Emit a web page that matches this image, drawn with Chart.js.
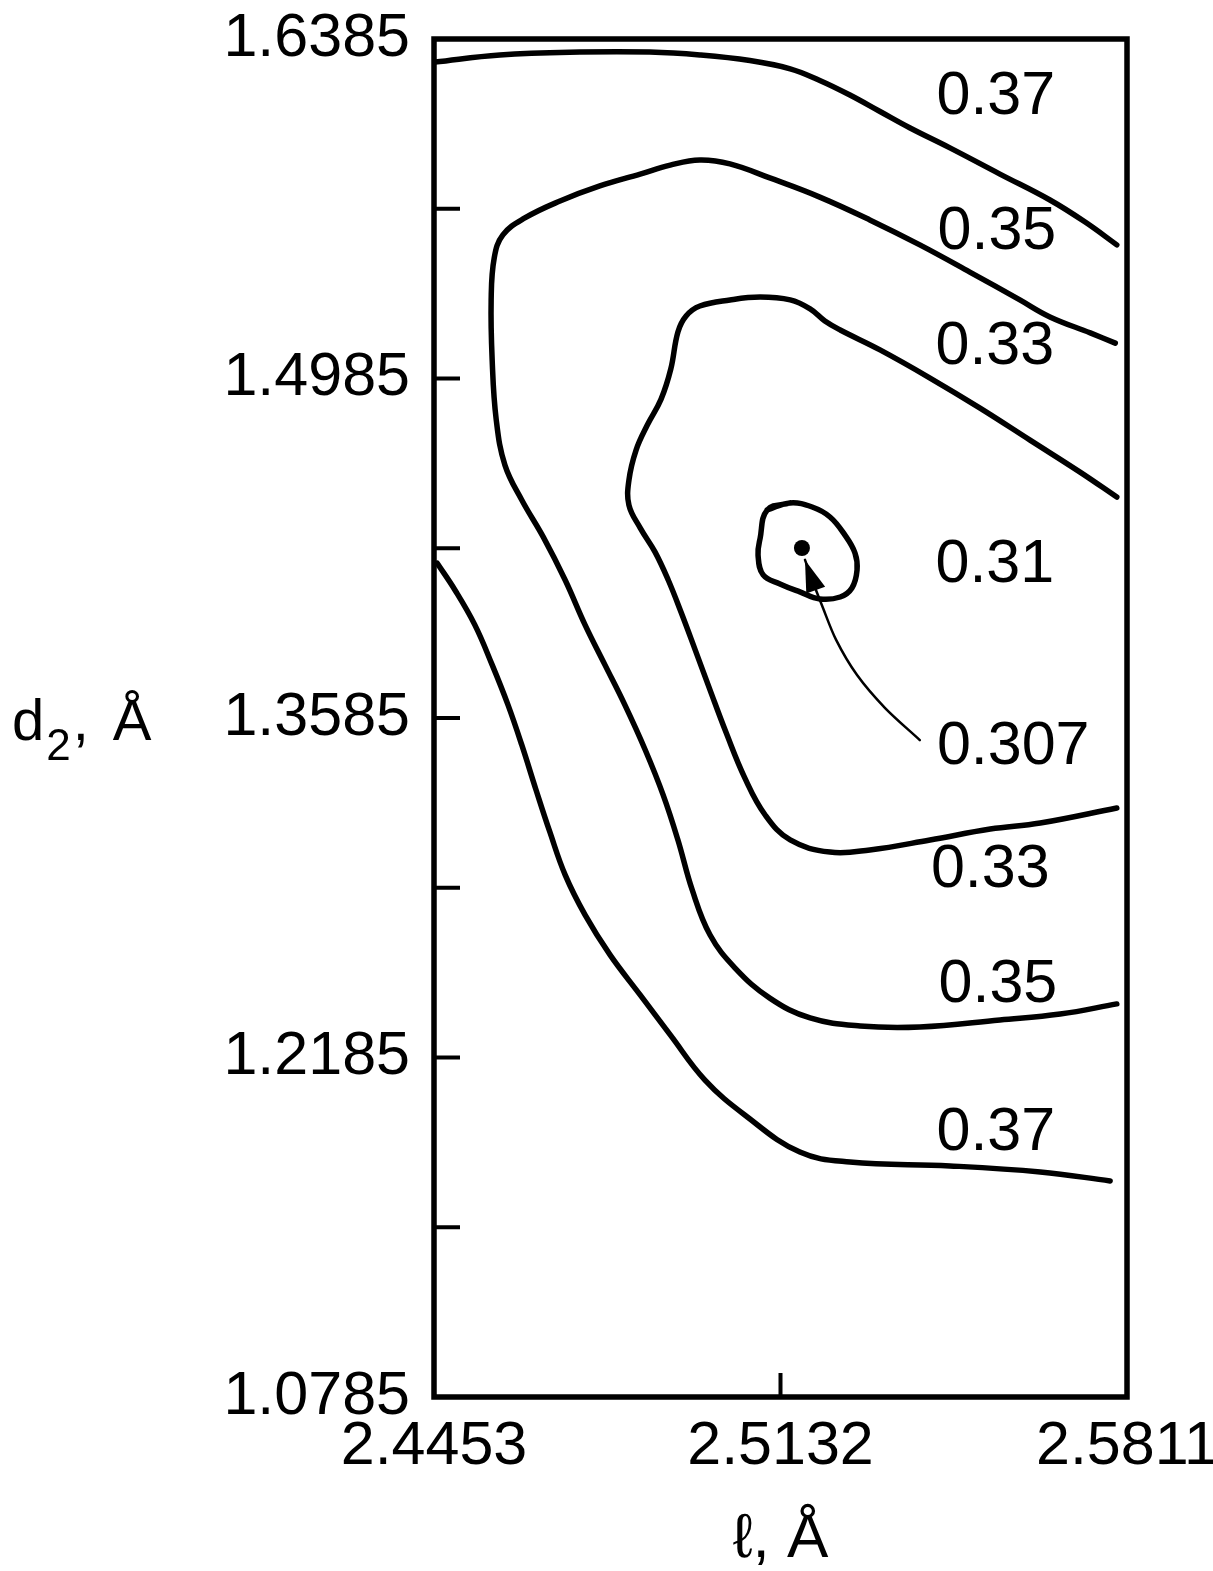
<!DOCTYPE html>
<html>
<head>
<meta charset="utf-8">
<title>d2 / l contour map</title>
<script src="https://cdn.jsdelivr.net/npm/chart.js@4.4.1/dist/chart.umd.min.js"></script>
<style>
	html, body { margin: 0; padding: 0; background: #fff; }
	canvas { display: block; }
</style>
</head>
<body>
<canvas id="contourChart" width="1213" height="1571"></canvas>
<script>
// setup block: axis ticks (both axes in Å)
const xTicks = [2.4453, 2.5132, 2.5811];
const xTickMarks = [2.5132];
const yTicks = [1.0785, 1.1485, 1.2185, 1.2885, 1.3585, 1.4285, 1.4985, 1.5685, 1.6385];
const yTickLabels = [1.0785, 1.2185, 1.3585, 1.4985, 1.6385];

// contour lines: l values and d2 values
const upper037L = [2.4455, 2.4582, 2.4739, 2.4876, 2.4974, 2.5072, 2.5151, 2.5209, 2.5268, 2.5327, 2.5386, 2.5464, 2.5562, 2.5660, 2.5729, 2.5791];
const upper037D = [1.6290, 1.6319, 1.6331, 1.6331, 1.6319, 1.6296, 1.6262, 1.6214, 1.6154, 1.6086, 1.6018, 1.5936, 1.5828, 1.5721, 1.5630, 1.5536];

const band035L = [2.5788, 2.5739, 2.5660, 2.5601, 2.5503, 2.5405, 2.5307, 2.5209, 2.5111, 2.5033, 2.4974, 2.4916, 2.4857, 2.4778, 2.4700, 2.4631, 2.4588, 2.4571, 2.4565, 2.4567, 2.4575, 2.4592, 2.4625, 2.4667, 2.4710, 2.4749, 2.4788, 2.4827, 2.4867, 2.4902, 2.4931, 2.4959, 2.4994, 2.5043, 2.5111, 2.5190, 2.5288, 2.5405, 2.5562, 2.5680, 2.5791];
const band035D = [1.5131, 1.5173, 1.5239, 1.5309, 1.5424, 1.5536, 1.5639, 1.5733, 1.5812, 1.5870, 1.5886, 1.5865, 1.5828, 1.5779, 1.5717, 1.5647, 1.5577, 1.5482, 1.5309, 1.5061, 1.4814, 1.4628, 1.4484, 1.4332, 1.4154, 1.3969, 1.3804, 1.3639, 1.3453, 1.3268, 1.3082, 1.2876, 1.2690, 1.2554, 1.2430, 1.2348, 1.2315, 1.2311, 1.2340, 1.2364, 1.2406];

const band033L = [2.5791, 2.5719, 2.5621, 2.5523, 2.5425, 2.5327, 2.5249, 2.5219, 2.5190, 2.5151, 2.5092, 2.5033, 2.4974, 2.4947, 2.4931, 2.4917, 2.4898, 2.4871, 2.4849, 2.4835, 2.4835, 2.4857, 2.4886, 2.4912, 2.4937, 2.4965, 2.4994, 2.5025, 2.5062, 2.5102, 2.5151, 2.5229, 2.5307, 2.5425, 2.5543, 2.5641, 2.5791];
const band033D = [1.4496, 1.4599, 1.4731, 1.4863, 1.4987, 1.5103, 1.5185, 1.5222, 1.5272, 1.5309, 1.5321, 1.5309, 1.5284, 1.5243, 1.5177, 1.5024, 1.4900, 1.4793, 1.4690, 1.4566, 1.4463, 1.4369, 1.4270, 1.4154, 1.4022, 1.3865, 1.3700, 1.3527, 1.3338, 1.3185, 1.3082, 1.3032, 1.3041, 1.3082, 1.3127, 1.3152, 1.3214];

const lower037L = [2.4459, 2.4494, 2.4533, 2.4567, 2.4598, 2.4625, 2.4653, 2.4680, 2.4710, 2.4749, 2.4798, 2.4857, 2.4916, 2.4984, 2.5062, 2.5170, 2.5268, 2.5464, 2.5641, 2.5778];
const lower037D = [1.4224, 1.4113, 1.3969, 1.3804, 1.3639, 1.3474, 1.3288, 1.3115, 1.2938, 1.2773, 1.2608, 1.2443, 1.2278, 1.2092, 1.1948, 1.1795, 1.1754, 1.1738, 1.1713, 1.1676];

// closed loop: the first two points repeat at the end so the join is smooth
const loop0307L = [2.5106, 2.5151, 2.5194, 2.5229, 2.5258, 2.5278, 2.5282, 2.5272, 2.5249, 2.5209, 2.5170, 2.5131, 2.5098, 2.5088, 2.5092, 2.5106, 2.5151];
const loop0307D = [1.4443, 1.4472, 1.4455, 1.4414, 1.4340, 1.4265, 1.4195, 1.4121, 1.4084, 1.4076, 1.4105, 1.4138, 1.4175, 1.4257, 1.4325, 1.4443, 1.4472];

// minimum and the pointer from the 0.307 label
const minimumL = [2.5174];
const minimumD = [1.4286];
const arrowL = [2.5405, 2.5337, 2.5282, 2.5241, 2.5213, 2.5194, 2.5180];
const arrowD = [1.3494, 1.3626, 1.3762, 1.3907, 1.4051, 1.4154, 1.4237];

// level labels
const levelText = ['0.37', '0.35', '0.33', '0.31', '0.307', '0.33', '0.35', '0.37'];
const levelL = [2.5554, 2.5556, 2.5552, 2.5552, 2.5588, 2.5543, 2.5558, 2.5554];
const levelD = [1.6146, 1.5589, 1.5115, 1.4216, 1.3465, 1.2958, 1.2484, 1.1874];

const FONT = "'Liberation Sans', Arial, Helvetica, sans-serif";
Chart.defaults.font.family = FONT;
Chart.defaults.color = '#000';

const toPoints = (ls, ds) => ls.map((l, i) => ({ x: l, y: ds[i] }));

const contour = (ls, ds) => ({
	data: toPoints(ls, ds),
	showLine: true,
	borderColor: '#000',
	borderWidth: 5.5,
	borderCapStyle: 'round',
	borderJoinStyle: 'round',
	pointRadius: 0,
	tension: 0.4,
	fill: false,
});

const arrowDataset = Object.assign(contour(arrowL, arrowD), { borderWidth: 2.5, tension: 0.3 });
const ARROW_INDEX = 5;

// draws frame, inner ticks, level labels, arrow head and the d2 title
const mapDecor = {
	id: 'mapDecor',
	afterDatasetsDraw(chart) {
		const ctx = chart.ctx;
		const area = chart.chartArea;
		const xs = chart.scales.x;
		const ys = chart.scales.y;
		ctx.save();
		ctx.strokeStyle = '#000';
		ctx.fillStyle = '#000';

		ctx.lineWidth = 5.5;
		ctx.strokeRect(area.left, area.top, area.right - area.left, area.bottom - area.top);

		ctx.lineWidth = 4;
		ctx.beginPath();
		yTicks.slice(1, -1).forEach((v) => {
			const py = ys.getPixelForValue(v);
			ctx.moveTo(area.left, py);
			ctx.lineTo(area.left + 26, py);
		});
		xTickMarks.forEach((v) => {
			const px = xs.getPixelForValue(v);
			ctx.moveTo(px, area.bottom);
			ctx.lineTo(px, area.bottom - 24);
		});
		ctx.stroke();

		// arrow head at the end of the pointer
		const pts = chart.getDatasetMeta(ARROW_INDEX).data;
		const tip = pts[pts.length - 1];
		const back = pts[pts.length - 2];
		const ang = Math.atan2(tip.y - back.y, tip.x - back.x);
		const len = 32;
		const half = 10;
		const bx = tip.x - Math.cos(ang) * len;
		const by = tip.y - Math.sin(ang) * len;
		ctx.beginPath();
		ctx.moveTo(tip.x, tip.y);
		ctx.lineTo(bx - Math.sin(ang) * half, by + Math.cos(ang) * half);
		ctx.lineTo(bx + Math.sin(ang) * half, by - Math.cos(ang) * half);
		ctx.closePath();
		ctx.fill();

		ctx.font = '61px ' + FONT;
		ctx.textAlign = 'center';
		ctx.textBaseline = 'middle';
		levelText.forEach((t, i) => {
			ctx.fillText(t, xs.getPixelForValue(levelL[i]), ys.getPixelForValue(levelD[i]));
		});

		// horizontal y title: d with subscript 2
		const base = (area.top + area.bottom) / 2 + 22;
		ctx.textAlign = 'left';
		ctx.textBaseline = 'alphabetic';
		let x = 12;
		ctx.font = '58px ' + FONT;
		ctx.fillText('d', x, base);
		x += ctx.measureText('d').width + 2;
		ctx.font = '44px ' + FONT;
		ctx.fillText('2', x, base + 20);
		x += ctx.measureText('2').width + 2;
		ctx.font = '58px ' + FONT;
		ctx.fillText(',', x, base);
		ctx.fillText('Å', x + 40, base);
		ctx.restore();
	},
};

// config block
const config = {
	type: 'scatter',
	data: {
		datasets: [
			contour(upper037L, upper037D),
			contour(band035L, band035D),
			contour(band033L, band033D),
			contour(lower037L, lower037D),
			contour(loop0307L, loop0307D),
			arrowDataset,
			{
				data: toPoints(minimumL, minimumD),
				showLine: false,
				pointRadius: 8,
				pointBackgroundColor: '#000',
				pointBorderWidth: 0,
			},
		],
	},
	options: {
		responsive: false,
		animation: false,
		layout: { padding: { top: 39, right: 86, bottom: 0, left: 0 } },
		plugins: {
			legend: { display: false },
			tooltip: { enabled: false },
		},
		scales: {
			x: {
				type: 'linear',
				min: 2.4453,
				max: 2.5811,
				afterBuildTicks: (s) => { s.ticks = xTicks.map((v) => ({ value: v })); },
				afterFit: (s) => { s.height = 174; s.paddingLeft = 0; s.paddingRight = 0; },
				grid: { display: false, drawTicks: false },
				border: { display: false },
				ticks: {
					color: '#000',
					font: { size: 61 },
					padding: 14,
					maxRotation: 0,
					autoSkip: false,
					callback: (v) => v.toFixed(4),
				},
				title: {
					display: true,
					text: 'ℓ, Å',
					color: '#000',
					font: { size: 62, lineHeight: 1 },
					padding: { top: 0, bottom: 0 },
				},
			},
			y: {
				type: 'linear',
				min: 1.0785,
				max: 1.6385,
				afterBuildTicks: (s) => { s.ticks = yTicks.map((v) => ({ value: v })); },
				afterFit: (s) => { s.width = 434; s.paddingTop = 0; s.paddingBottom = 0; },
				grid: { display: false, drawTicks: false },
				border: { display: false },
				ticks: {
					color: '#000',
					font: { size: 61 },
					padding: 24,
					autoSkip: false,
					callback: (v) => (yTickLabels.some((t) => Math.abs(t - v) < 1e-6) ? v.toFixed(4) : ''),
				},
			},
		},
	},
	plugins: [mapDecor],
};

// render / init block
const contourChart = new Chart(document.getElementById('contourChart'), config);
</script>
</body>
</html>
